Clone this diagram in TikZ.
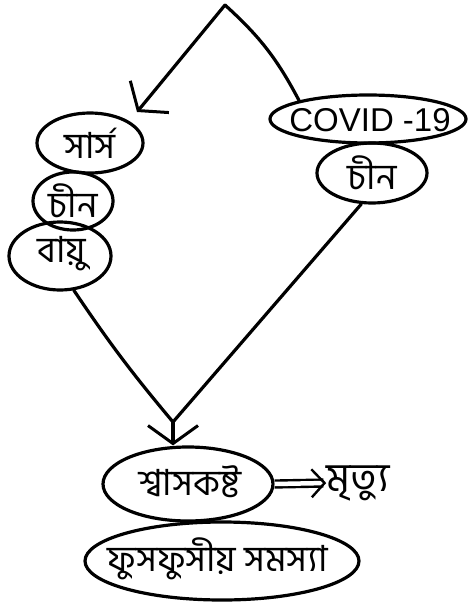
\documentclass[tikz,border=0pt]{standalone}
\usepackage{fontspec}
\usetikzlibrary{shapes.geometric,arrows.meta}
\newfontfamily\bnfont[Script=Bengali]{Hind Siliguri}
\newfontfamily\latfont{Liberation Sans}
\tikzset{
  x=1pt, y=-1pt,
  bubble/.style={draw, ellipse, line width=3.2pt, inner sep=0pt},
  word/.style={inner sep=0pt, font=\bnfont\fontsize{36}{40}\selectfont},
  link/.style={line width=3.2pt, line cap=round},
  vtip/.style={-{Straight Barb[length=18pt,width=50pt,line width=3pt]}},
}
\begin{document}
\begin{tikzpicture}
\useasboundingbox (0,0) rectangle (472,605);
% left column: SARS, China, air
\node[bubble, minimum width=106pt, minimum height=60pt] (sars) at (90,143) {};
\node[word] (sarsT) at (sars) {সার্স};
\node[bubble, minimum width=80pt, minimum height=58pt] (chinL) at (73,201) {};
\node[word] (chinLT) at (chinL) {চীন};
\node[bubble, minimum width=102pt, minimum height=68pt] (air) at (60,256) {};
\node[word] (airT) at (62,254) {বায়ু};
% right column: COVID-19, China
\node[bubble, minimum width=196pt, minimum height=48pt] (covid) at (368,119) {};
\node[word, font=\latfont\fontsize{33}{36}\selectfont] (covidT) at (370,120) {COVID -19};
\node[bubble, minimum width=110pt, minimum height=60pt] (chinR) at (372,173) {};
\node[word] (chinRT) at (chinR) {চীন};
% bottom: breathing difficulty, lung problem, death
\node[bubble, minimum width=170pt, minimum height=74pt] (breath) at (188,484) {};
\node[word] (breathT) at (190,482) {শ্বাসকষ্ট};
\node[bubble, minimum width=274pt, minimum height=78pt] (lung) at (222,561) {};
\node[word] (lungT) at (218,559) {ফুসফুসীয় সমস্যা};
\node[word, font=\bnfont\fontsize{40}{44}\selectfont] (death) at (358,483) {মৃত্যু};
% top connector: from COVID-19 over a peak down towards SARS
\coordinate (peak) at (225,5);
\coordinate (sarsend) at (137,112);
\draw[link] (covid.165) to[bend right=10] (peak);
\draw[link, vtip] (peak) -- (sarsend);
% connectors meeting above breathing difficulty
\coordinate (meet) at (173,422);
\draw[link] (chinR.251) -- (meet);
\draw[link] (air.292) to[bend right=3] (meet);
\draw[link, vtip] (meet) -- (meet |- breath.north);
% double arrow to death
\draw[line width=2.4pt, double distance=4.5pt, -{Straight Barb[length=13pt,width=28pt,line width=2.4pt]}] (breath.east) -- (death.west);
\end{tikzpicture}
\end{document}
